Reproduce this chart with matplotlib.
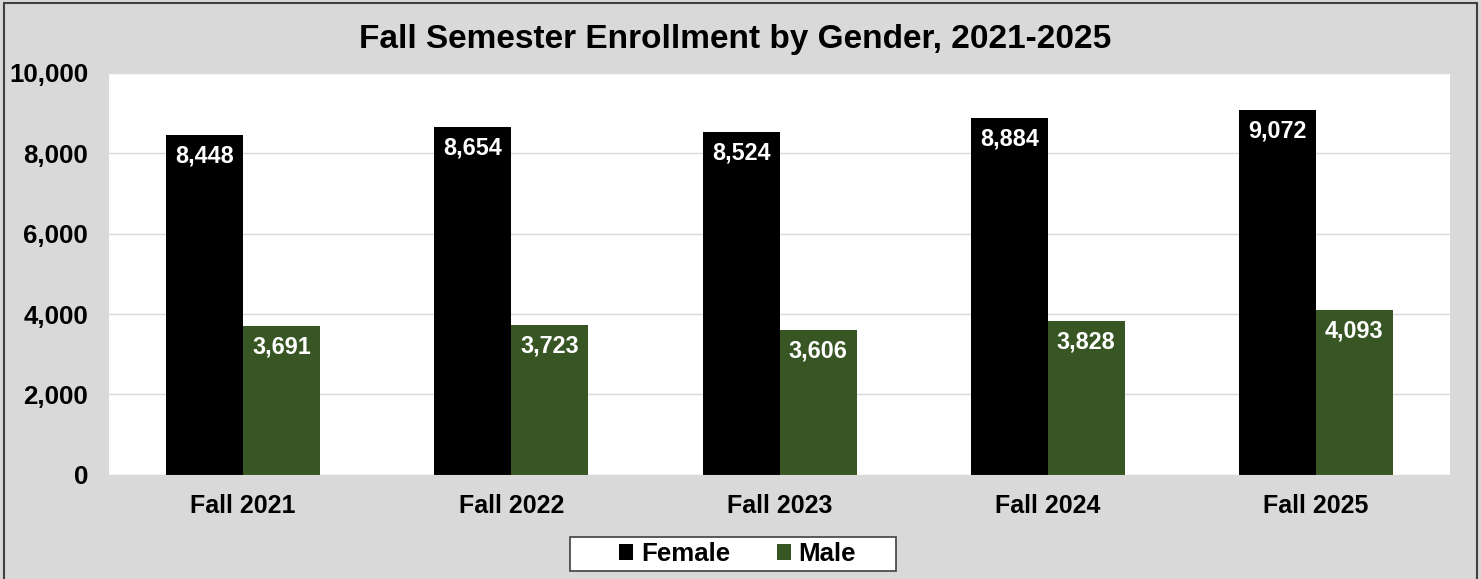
import numpy as np
import matplotlib.pyplot as plt
from matplotlib.patches import Rectangle

plt.rcParams['font.family'] = ['Liberation Sans', 'DejaVu Sans']
plt.rcParams['font.weight'] = 'bold'

semesters = ["Fall 2021", "Fall 2022", "Fall 2023", "Fall 2024", "Fall 2025"]
female = [8448, 8654, 8524, 8884, 9072]
male = [3691, 3723, 3606, 3828, 4093]

bg = "#D9D9D9"
female_color = "#000000"
male_color = "#375623"

fig = plt.figure(figsize=(14.81, 5.79), dpi=100, facecolor=bg)
fig.patches.append(Rectangle((0.0027, -0.01), 0.9946, 1.005, transform=fig.transFigure,
                             fill=False, edgecolor="#404040", linewidth=1.5))
ax = fig.add_axes([0.0736, 0.180, 0.9055, 0.694])
ax.set_facecolor("white")

x = np.arange(len(semesters))
w = 0.287
b1 = ax.bar(x - w / 2, female, w, color=female_color, label="Female")
b2 = ax.bar(x + w / 2, male, w, color=male_color, label="Male")

# value labels just inside the top of each bar
for bars in (b1, b2):
    for r in bars:
        h = r.get_height()
        ax.annotate(f"{int(h):,}", (r.get_x() + r.get_width() / 2, h),
                    xytext=(0, -15), textcoords="offset points",
                    ha="center", va="center", color="white",
                    fontsize=16.8, fontweight="bold")

ax.set_xlim(-0.5, len(semesters) - 0.5)
ax.set_ylim(0, 10000)
ax.set_yticks(range(0, 10001, 2000))
ax.set_yticklabels([f"{v:,}" for v in range(0, 10001, 2000)])
ax.set_xticks(x)
ax.set_xticklabels(semesters)
ax.tick_params(axis="x", length=0, labelsize=18)
ax.tick_params(axis="y", length=0, labelsize=18.6)
ax.tick_params(axis="x", pad=14)
ax.tick_params(axis="y", pad=15)
ax.grid(axis="y", color="#D9D9D9", linewidth=1)
ax.set_axisbelow(True)
for s in ["top", "right", "left"]:
    ax.spines[s].set_visible(False)
ax.spines["bottom"].set_color("#D9D9D9")

fig.text(0.4962, 0.931, "Fall Semester Enrollment by Gender, 2021-2025", fontsize=24,
         fontweight="bold", ha="center", va="center")

# legend box drawn by hand so it can be wider than its contents
fig.patches.append(Rectangle((0.3849, 0.0138), 0.2201, 0.0587, transform=fig.transFigure,
                             facecolor="white", edgecolor="#404040", linewidth=1.2))
leg = fig.legend(loc="center", bbox_to_anchor=(0.498, 0.0432), ncol=2,
                 fontsize=18.6, frameon=False,
                 handlelength=0.55, handleheight=0.55, handletextpad=0.3,
                 columnspacing=1.8, borderpad=0.2, borderaxespad=0)

fig.savefig("out.png", dpi=100, facecolor=bg)
